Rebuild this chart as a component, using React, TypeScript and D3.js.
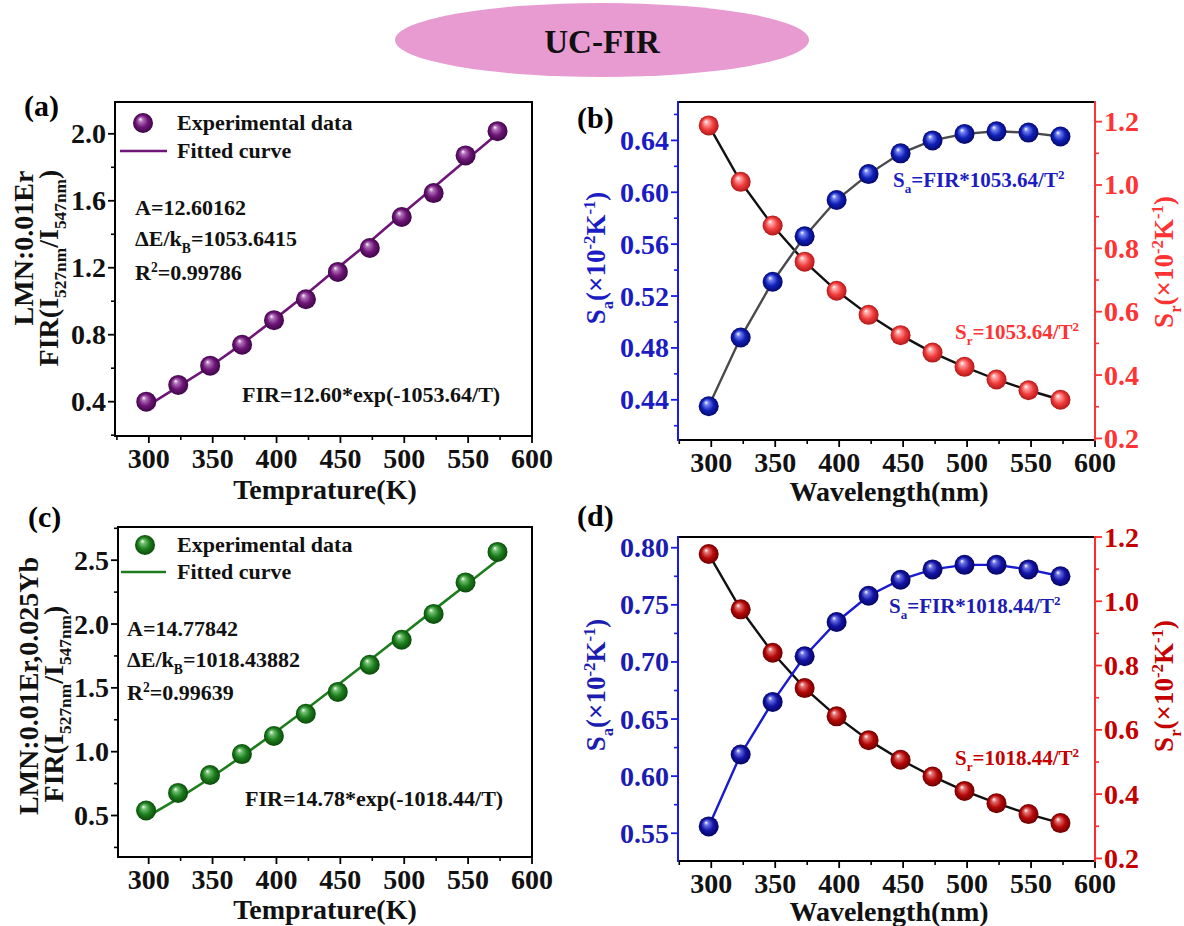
import React from 'react';
import * as d3 from 'd3';

// Temperatures (K) at which the FIR was measured
const temps = [298, 323, 348, 373, 398, 423, 448, 473, 498, 523, 548, 573];

// (a) LMN:0.01Er
const firA = [0.40, 0.50, 0.615, 0.74, 0.887, 1.012, 1.175, 1.318, 1.503, 1.646, 1.871, 2.016];
const fitA = [0.37, 0.49, 0.61, 0.745, 0.89, 1.04, 1.2, 1.355, 1.52, 1.68, 1.84, 2.0];
// (b) sensitivities for LMN:0.01Er
const saB = [0.435, 0.488, 0.531, 0.566, 0.594, 0.614, 0.63, 0.64, 0.645, 0.647, 0.646, 0.643];
const srB = [1.188, 1.01, 0.872, 0.758, 0.666, 0.59, 0.526, 0.471, 0.426, 0.386, 0.352, 0.322];
// (c) LMN:0.01Er,0.025Yb
const firC = [0.539, 0.677, 0.817, 0.981, 1.123, 1.297, 1.468, 1.681, 1.877, 2.079, 2.326, 2.565];
const fitC = [0.485, 0.632, 0.792, 0.964, 1.144, 1.331, 1.522, 1.716, 1.912, 2.109, 2.304, 2.499];
// (d) sensitivities for LMN:0.01Er,0.025Yb
const saD = [0.556, 0.619, 0.665, 0.705, 0.735, 0.758, 0.772, 0.781, 0.785, 0.785, 0.781, 0.775];
const srD = [1.147, 0.975, 0.84, 0.73, 0.642, 0.568, 0.507, 0.455, 0.41, 0.372, 0.338, 0.31];

// Tick values
const xTicks = [300, 350, 400, 450, 500, 550, 600];
const xMinor = [275, 325, 375, 425, 475, 525, 575];
const yTicksA = [0.4, 0.8, 1.2, 1.6, 2.0];
const yMinorA = [0.2, 0.6, 1.0, 1.4, 1.8];
const yTicksB = [0.44, 0.48, 0.52, 0.56, 0.6, 0.64];
const yMinorB = [0.42, 0.46, 0.5, 0.54, 0.58, 0.62, 0.66];
const yTicksC = [0.5, 1.0, 1.5, 2.0, 2.5];
const yMinorC = [0.25, 0.75, 1.25, 1.75, 2.25, 2.75];
const yTicksD = [0.55, 0.6, 0.65, 0.7, 0.75, 0.8];
const yMinorD = [0.575, 0.625, 0.675, 0.725, 0.775];
const srTicks = [0.2, 0.4, 0.6, 0.8, 1.0, 1.2];
const srMinor = [0.3, 0.5, 0.7, 0.9, 1.1];

const FONT = '"Liberation Serif", "Times New Roman", serif';
const TICK_FS = 28;

type Lin = d3.ScaleLinear<number, number>;
type Seg = [string, ('sub' | 'sup')?];

// Mixed text with subscripts / superscripts built from tspans
function rich(segs: Seg[], fs: number) {
  let cur = 0;
  return segs.map(([t, k], i) => {
    const target = k === 'sub' ? fs * 0.3 : k === 'sup' ? -fs * 0.38 : 0;
    const dy = target - cur;
    cur = target;
    return (
      <tspan key={i} dy={dy} fontSize={k ? fs * 0.62 : fs}>
        {t}
      </tspan>
    );
  });
}

function BallGrad({ id, light, base, dark }: { id: string; light: string; base: string; dark: string }) {
  return (
    <radialGradient id={id} cx="50%" cy="50%" r="50%" fx="36%" fy="30%">
      <stop offset="0%" stopColor="#ffffff" />
      <stop offset="22%" stopColor={light} />
      <stop offset="60%" stopColor={base} />
      <stop offset="100%" stopColor={dark} />
    </radialGradient>
  );
}

function Balls({ x, y, vals, grad, r = 10 }: { x: Lin; y: Lin; vals: number[]; grad: string; r?: number }) {
  return (
    <g>
      {vals.map((v, i) => (
        <circle key={i} cx={x(temps[i])} cy={y(v)} r={r} fill={`url(#${grad})`} />
      ))}
    </g>
  );
}

function Path({ x, y, vals, color, w = 2.5 }: { x: Lin; y: Lin; vals: number[]; color: string; w?: number }) {
  const gen = d3
    .line<number>()
    .x((_, i) => x(temps[i]))
    .y((d) => y(d));
  return <path d={gen(vals) || ''} fill="none" stroke={color} strokeWidth={w} />;
}

function XAxis({ x, y }: { x: Lin; y: number }) {
  const [d0] = x.domain();
  return (
    <g>
      {xMinor
        .filter((v) => v >= d0)
        .map((v) => (
          <line key={'m' + v} x1={x(v)} x2={x(v)} y1={y} y2={y + 4} stroke="#000" strokeWidth={1.6} />
        ))}
      {xTicks.map((v) => (
        <g key={v}>
          <line x1={x(v)} x2={x(v)} y1={y} y2={y + 7} stroke="#000" strokeWidth={1.8} />
          <text x={x(v)} y={y + 32} textAnchor="middle" fontSize={TICK_FS} fontWeight="bold" fill="#111">
            {v}
          </text>
        </g>
      ))}
    </g>
  );
}

function YAxis({
  y,
  x0,
  side,
  ticks,
  minor,
  fmt,
  labelColor,
  lineColor,
}: {
  y: Lin;
  x0: number;
  side: 'left' | 'right';
  ticks: number[];
  minor: number[];
  fmt: (v: number) => string;
  labelColor: string;
  lineColor: string;
}) {
  const s = side === 'left' ? -1 : 1;
  const [r0, r1] = y.range();
  return (
    <g>
      <line x1={x0} x2={x0} y1={r0 + 1} y2={r1 - 1} stroke={lineColor} strokeWidth={2} />
      {minor.map((v) => (
        <line key={'m' + v} x1={x0} x2={x0 + s * 4} y1={y(v)} y2={y(v)} stroke={lineColor} strokeWidth={1.6} />
      ))}
      {ticks.map((v) => (
        <g key={v}>
          <line x1={x0} x2={x0 + s * 7} y1={y(v)} y2={y(v)} stroke={lineColor} strokeWidth={1.8} />
          <text
            x={x0 + s * 9}
            y={y(v) + 9.5}
            textAnchor={side === 'left' ? 'end' : 'start'}
            fontSize={TICK_FS}
            fontWeight="bold"
            fill={labelColor}
          >
            {fmt(v)}
          </text>
        </g>
      ))}
    </g>
  );
}

function Rotated({ x, y, fs, color, segs }: { x: number; y: number; fs: number; color: string; segs: Seg[] }) {
  return (
    <text transform={`translate(${x},${y}) rotate(-90)`} textAnchor="middle" fontWeight="bold" fill={color} fontSize={fs}>
      {rich(segs, fs)}
    </text>
  );
}

const f1 = d3.format('.1f');
const f2 = d3.format('.2f');

// One FIR panel: experimental points with fitted curve
function FirPanel(props: {
  box: { x0: number; x1: number; y0: number; y1: number };
  xDomain: [number, number];
  yDomain: [number, number];
  ticks: number[];
  minor: number[];
  fmt: (v: number) => string;
  data: number[];
  fit: number[];
  color: string;
  grad: string;
  tag: string;
  tagPos: [number, number];
  titleLines: { segs: Seg[]; x: number; y: number }[];
  legend: { bx: number; by: number; tx: number; lx0: number; lx1: number; ly: number };
  notes: { x: number; ys: number[]; vals: Seg[][] };
  eq: { x: number; y: number; text: string };
  xTitle: { x: number; y: number };
}) {
  const { box } = props;
  const x = d3.scaleLinear().domain(props.xDomain).range([box.x0, box.x1]);
  const y = d3.scaleLinear().domain(props.yDomain).range([box.y1, box.y0]);
  return (
    <g>
      <rect x={box.x0} y={box.y0} width={box.x1 - box.x0} height={box.y1 - box.y0} fill="none" stroke="#000" strokeWidth={2} />
      <XAxis x={x} y={box.y1} />
      <YAxis y={y} x0={box.x0} side="left" ticks={props.ticks} minor={props.minor} fmt={props.fmt} labelColor="#111" lineColor="#000" />
      <Path x={x} y={y} vals={props.fit} color={props.color} w={2.6} />
      <Balls x={x} y={y} vals={props.data} grad={props.grad} />
      <text x={props.tagPos[0]} y={props.tagPos[1]} fontSize={30} fontWeight="bold" fill="#000">
        {props.tag}
      </text>
      {props.titleLines.map((l, i) => (
        <Rotated key={i} x={l.x} y={l.y} fs={28} color="#111" segs={l.segs} />
      ))}
      <circle cx={props.legend.bx} cy={props.legend.by} r={10} fill={`url(#${props.grad})`} />
      <text x={props.legend.tx} y={props.legend.by + 7} fontSize={22} fontWeight="bold" fill="#111">
        Experimental data
      </text>
      <line x1={props.legend.lx0} x2={props.legend.lx1} y1={props.legend.ly} y2={props.legend.ly} stroke={props.color} strokeWidth={2.6} />
      <text x={props.legend.tx} y={props.legend.ly + 7} fontSize={22} fontWeight="bold" fill="#111">
        Fitted curve
      </text>
      {props.notes.vals.map((segs, i) => (
        <text key={i} x={props.notes.x} y={props.notes.ys[i]} fontWeight="bold" fill="#111" fontSize={22}>
          {rich(segs, 22)}
        </text>
      ))}
      <text x={props.eq.x} y={props.eq.y} fontSize={22} fontWeight="bold" fill="#111">
        {props.eq.text}
      </text>
      <text x={props.xTitle.x} y={props.xTitle.y} textAnchor="middle" fontSize={28} fontWeight="bold" fill="#111">
        Temprature(K)
      </text>
    </g>
  );
}

// One sensitivity panel: absolute (left axis) and relative (right axis)
function SensPanel(props: {
  box: { x0: number; x1: number; y0: number; y1: number };
  xDomain: [number, number];
  yL: [number, number];
  yR: [number, number];
  ticks: number[];
  minor: number[];
  sa: number[];
  sr: number[];
  saLine: string;
  gradSa: string;
  gradSr: string;
  saColor: string;
  srColor: string;
  srAxis: string;
  tag: string;
  tagPos: [number, number];
  leftTitle: { x: number; y: number };
  rightTitle: { x: number; y: number };
  saNote: { x: number; y: number; k: string };
  srNote: { x: number; y: number; k: string };
  xTitle: { x: number; y: number };
}) {
  const { box } = props;
  const x = d3.scaleLinear().domain(props.xDomain).range([box.x0, box.x1]);
  const yl = d3.scaleLinear().domain(props.yL).range([box.y1, box.y0]);
  const yr = d3.scaleLinear().domain(props.yR).range([box.y1, box.y0]);
  const unit: Seg[] = [['(×10'], ['-2', 'sup'], ['K'], ['-1', 'sup'], [')']];
  return (
    <g>
      <rect x={box.x0} y={box.y0} width={box.x1 - box.x0} height={box.y1 - box.y0} fill="none" stroke="#000" strokeWidth={2} />
      <XAxis x={x} y={box.y1} />
      <YAxis y={yl} x0={box.x0} side="left" ticks={props.ticks} minor={props.minor} fmt={f2} labelColor={props.saColor} lineColor="#1a1ae6" />
      <YAxis y={yr} x0={box.x1} side="right" ticks={srTicks} minor={srMinor} fmt={f1} labelColor={props.srColor} lineColor={props.srAxis} />
      <Path x={x} y={yr} vals={props.sr} color="#111" w={2.4} />
      <Path x={x} y={yl} vals={props.sa} color={props.saLine} w={2.4} />
      <Balls x={x} y={yr} vals={props.sr} grad={props.gradSr} />
      <Balls x={x} y={yl} vals={props.sa} grad={props.gradSa} />
      <text x={props.tagPos[0]} y={props.tagPos[1]} fontSize={30} fontWeight="bold" fill="#000">
        {props.tag}
      </text>
      <Rotated x={props.leftTitle.x} y={props.leftTitle.y} fs={27} color={props.saColor} segs={[['S'], ['a', 'sub'], ...unit]} />
      <Rotated x={props.rightTitle.x} y={props.rightTitle.y} fs={27} color={props.srColor} segs={[['S'], ['r', 'sub'], ...unit]} />
      <text x={props.saNote.x} y={props.saNote.y} fontSize={21} fontWeight="bold" fill={props.saColor}>
        {rich([['S'], ['a', 'sub'], [`=FIR*${props.saNote.k}/T`], ['2', 'sup']], 21)}
      </text>
      <text x={props.srNote.x} y={props.srNote.y} fontSize={21} fontWeight="bold" fill={props.srColor}>
        {rich([['S'], ['r', 'sub'], [`=${props.srNote.k}/T`], ['2', 'sup']], 21)}
      </text>
      <text x={props.xTitle.x} y={props.xTitle.y} textAnchor="middle" fontSize={28} fontWeight="bold" fill="#111">
        Wavelength(nm)
      </text>
    </g>
  );
}

export default function App() {
  const firSub: Seg[] = [['FIR(I'], ['527nm', 'sub'], ['/I'], ['547nm', 'sub'], [')']];
  return (
    <svg
      width={1184}
      height={926}
      viewBox="0 0 1184 926"
      style={{ position: 'absolute', left: 0, top: 0, background: '#fff' }}
      fontFamily={FONT}
    >
      <defs>
        <BallGrad id="gPurple" light="#b070b8" base="#6e1577" dark="#3c0645" />
        <BallGrad id="gGreen" light="#6fbf6f" base="#1d7d1d" dark="#0a4a0a" />
        <BallGrad id="gBlueB" light="#7080f0" base="#1020b8" dark="#05086a" />
        <BallGrad id="gRedB" light="#ffa0a0" base="#f03c3c" dark="#b01818" />
        <BallGrad id="gBlueD" light="#6a70e0" base="#1414a8" dark="#050560" />
        <BallGrad id="gRedD" light="#e07070" base="#b80808" dark="#6a0000" />
      </defs>

      <ellipse cx={602} cy={40} rx={207} ry={37} fill="#e89bd1" />
      <text x={602} y={53} textAnchor="middle" fontSize={33} fontWeight="bold" fill="#111">
        UC-FIR
      </text>

      <FirPanel
        box={{ x0: 115, x1: 532, y0: 102, y1: 436 }}
        xDomain={[273.5, 600]}
        yDomain={[0.195, 2.19]}
        ticks={yTicksA}
        minor={yMinorA}
        fmt={f1}
        data={firA}
        fit={fitA}
        color="#6e1577"
        grad="gPurple"
        tag="(a)"
        tagPos={[24, 116]}
        titleLines={[
          { segs: [['LMN:0.01Er']], x: 33, y: 248 },
          { segs: firSub, x: 58, y: 268 },
        ]}
        legend={{ bx: 143, by: 123, tx: 177, lx0: 120, lx1: 167, ly: 151 }}
        notes={{
          x: 135,
          ys: [215, 246, 280],
          vals: [[['A=12.60162']], [['ΔE/k'], ['B', 'sub'], ['=1053.6415']], [['R'], ['2', 'sup'], ['=0.99786']]],
        }}
        eq={{ x: 242, y: 402, text: 'FIR=12.60*exp(-1053.64/T)' }}
        xTitle={{ x: 325, y: 499 }}
      />

      <SensPanel
        box={{ x0: 678, x1: 1095, y0: 102, y1: 440 }}
        xDomain={[274, 600]}
        yL={[0.409, 0.6696]}
        yR={[0.195, 1.262]}
        ticks={yTicksB}
        minor={yMinorB}
        sa={saB}
        sr={srB}
        saLine="#4a4a4a"
        gradSa="gBlueB"
        gradSr="gRedB"
        saColor="#1c1cc4"
        srColor="#ff3333"
        srAxis="#ff3333"
        tag="(b)"
        tagPos={[577, 128]}
        leftTitle={{ x: 605, y: 258 }}
        rightTitle={{ x: 1173, y: 262 }}
        saNote={{ x: 893, y: 187, k: '1053.64' }}
        srNote={{ x: 955, y: 339, k: '1053.64' }}
        xTitle={{ x: 889, y: 501 }}
      />

      <FirPanel
        box={{ x0: 118, x1: 532, y0: 527, y1: 857 }}
        xDomain={[276, 600]}
        yDomain={[0.175, 2.76]}
        ticks={yTicksC}
        minor={yMinorC}
        fmt={f1}
        data={firC}
        fit={fitC}
        color="#1d7d1d"
        grad="gGreen"
        tag="(c)"
        tagPos={[28, 527]}
        titleLines={[
          { segs: [['LMN:0.01Er,0.025Yb']], x: 38, y: 686 },
          { segs: firSub, x: 63, y: 704 },
        ]}
        legend={{ bx: 145, by: 545, tx: 177, lx0: 121, lx1: 166, ly: 572 }}
        notes={{
          x: 127,
          ys: [636, 667, 700],
          vals: [[['A=14.77842']], [['ΔE/k'], ['B', 'sub'], ['=1018.43882']], [['R'], ['2', 'sup'], ['=0.99639']]],
        }}
        eq={{ x: 245, y: 806, text: 'FIR=14.78*exp(-1018.44/T)' }}
        xTitle={{ x: 325, y: 919 }}
      />

      <SensPanel
        box={{ x0: 678, x1: 1095, y0: 537, y1: 861 }}
        xDomain={[274, 600]}
        yL={[0.5257, 0.8094]}
        yR={[0.192, 1.2]}
        ticks={yTicksD}
        minor={yMinorD}
        sa={saD}
        sr={srD}
        saLine="#1a1ad0"
        gradSa="gBlueD"
        gradSr="gRedD"
        saColor="#1c1cb0"
        srColor="#c40000"
        srAxis="#ff2a2a"
        tag="(d)"
        tagPos={[577, 526]}
        leftTitle={{ x: 605, y: 685 }}
        rightTitle={{ x: 1173, y: 686 }}
        saNote={{ x: 889, y: 613, k: '1018.44' }}
        srNote={{ x: 955, y: 765, k: '1018.44' }}
        xTitle={{ x: 889, y: 921 }}
      />
    </svg>
  );
}
